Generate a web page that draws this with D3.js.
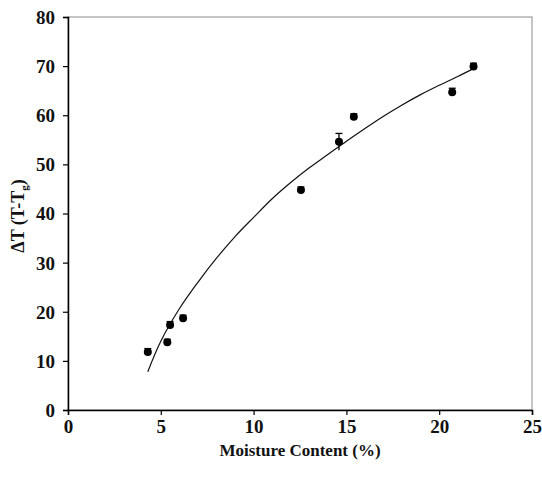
<!DOCTYPE html>
<html><head><meta charset="utf-8">
<script src="https://cdn.jsdelivr.net/npm/d3@7"></script>
<style>body{margin:0;background:#fff}svg{display:block}</style>
</head><body>
<script>
// Data
const moisture = [4.3, 5.35, 5.5, 6.2, 12.55, 14.6, 15.4, 20.7, 21.85];
const deltaT   = [11.8, 13.8, 17.3, 18.7, 44.8, 54.6, 59.7, 64.7, 69.9];
const errorT   = [0.7, 0.6, 0.7, 0.6, 0.6, 1.7, 0.6, 0.8, 0.7];
// Trend line
const fitX = [4.3, 5, 6, 7, 8, 9, 10, 11, 12, 13, 14, 15, 16, 17, 18, 19, 20, 21, 21.9];
const fitY = [7.8, 14.0, 20.6, 26.0, 30.9, 35.3, 39.2, 43.0, 46.3, 49.3, 52.0, 54.7, 57.3, 59.8, 62.1, 64.2, 66.1, 67.9, 69.6];
const xTicks = [0, 5, 10, 15, 20, 25];
const yTicks = [0, 10, 20, 30, 40, 50, 60, 70, 80];

const W = 542, H = 484;
const m = {l: 68, t: 17, r: 10, b: 74};
const svg = d3.select("body").append("svg").attr("width", W).attr("height", H);
const x = d3.scaleLinear().domain([0, 25]).range([m.l, W - m.r]);
const y = d3.scaleLinear().domain([0, 80]).range([H - m.b, m.t]);
const font = "'Liberation Serif','Times New Roman',serif";

// frame top/right
svg.append("rect").attr("x", x(0)).attr("y", y(80)).attr("width", x(25) - x(0)).attr("height", y(0) - y(80))
  .attr("fill", "none").attr("stroke", "#8a8a8a").attr("stroke-width", 1);

const xa = svg.append("g").attr("transform", `translate(0,${y(0)})`)
  .call(d3.axisBottom(x).tickValues(xTicks).tickSize(5).tickPadding(5).tickFormat(d3.format("d")));
const ya = svg.append("g").attr("transform", `translate(${x(0)},0)`)
  .call(d3.axisLeft(y).tickValues(yTicks).tickSize(5).tickPadding(8).tickFormat(d3.format("d")));
[xa, ya].forEach(a => {
  a.select(".domain").attr("stroke", "#000").attr("stroke-width", 1.5);
  a.selectAll(".tick line").attr("stroke", "#000").attr("stroke-width", 1.2);
  a.selectAll(".tick text").attr("font-family", font).attr("font-weight", "bold")
    .attr("font-size", 19).attr("fill", "#111");
});
ya.selectAll(".tick text").attr("dy", "0.34em");

// trend line
const pts = fitX.map((v, i) => [v, fitY[i]]);
svg.append("path").datum(pts)
  .attr("d", d3.line().x(d => x(d[0])).y(d => y(d[1])).curve(d3.curveCatmullRom))
  .attr("fill", "none").attr("stroke", "#111").attr("stroke-width", 1.2);

// error bars
const data = moisture.map((v, i) => ({x: v, y: deltaT[i], e: errorT[i]}));
const eb = svg.append("g").attr("stroke", "#000").attr("stroke-width", 1.3);
eb.selectAll("line.v").data(data).join("line")
  .attr("x1", d => x(d.x)).attr("x2", d => x(d.x))
  .attr("y1", d => y(d.y + d.e)).attr("y2", d => y(d.y - d.e));
eb.selectAll("line.c").data(data).join("line")
  .attr("x1", d => x(d.x) - 3.5).attr("x2", d => x(d.x) + 3.5)
  .attr("y1", d => y(d.y + d.e)).attr("y2", d => y(d.y + d.e));

svg.append("g").selectAll("circle").data(data).join("circle")
  .attr("cx", d => x(d.x)).attr("cy", d => y(d.y)).attr("r", 4)
  .attr("fill", "#000");

// titles
svg.append("text").attr("x", (x(0) + x(25)) / 2).attr("y", 456)
  .attr("text-anchor", "middle").attr("font-family", font).attr("font-weight", "bold")
  .attr("font-size", 17).attr("fill", "#111").text("Moisture Content (%)");

const yt = svg.append("text").attr("transform", `translate(24,216) rotate(-90)`)
  .attr("text-anchor", "middle").attr("font-family", font).attr("font-weight", "bold")
  .attr("font-size", 18).attr("fill", "#111");
yt.append("tspan").text("ΔT (T-T");
yt.append("tspan").attr("font-size", 11).attr("dy", 4).text("g");
yt.append("tspan").attr("dy", -4).text(")");
</script>
</body></html>
